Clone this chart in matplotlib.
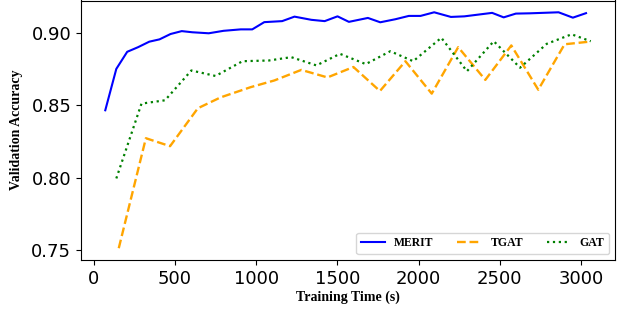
"""Validation accuracy vs training time for MERIT, TGAT and GAT."""

import matplotlib
matplotlib.use("Agg")
import matplotlib.pyplot as plt

# MERIT
merit_time = [71, 139, 206, 273, 342, 405, 473, 542, 607, 708, 799, 905, 976,
              1050, 1160, 1236, 1340, 1422, 1501, 1571, 1688, 1764, 1857, 1940,
              2012, 2096, 2199, 2282, 2453, 2524, 2599, 2686, 2862, 2950, 3031]
merit_acc = [0.8465, 0.8751, 0.8869, 0.8901, 0.8939, 0.8955, 0.8992, 0.9012,
             0.9004, 0.8997, 0.9014, 0.9024, 0.9024, 0.9074, 0.9081, 0.9112,
             0.9090, 0.9081, 0.9114, 0.9076, 0.9103, 0.9073, 0.9094, 0.9117,
             0.9117, 0.9142, 0.9110, 0.9114, 0.9138, 0.9107, 0.9133, 0.9135,
             0.9142, 0.9105, 0.9136]

# TGAT
tgat_time = [154, 321, 470, 641, 781, 967, 1112, 1278, 1439, 1599, 1762,
             1919, 2081, 2244, 2411, 2571, 2737, 2899, 3060]
tgat_acc = [0.7512, 0.8272, 0.8217, 0.8479, 0.8554, 0.8625, 0.8671, 0.8744,
            0.8692, 0.8764, 0.8598, 0.8804, 0.8580, 0.8901, 0.8675, 0.8913,
            0.8607, 0.8921, 0.8940]

# GAT
gat_time = [139, 294, 439, 601, 750, 916, 1079, 1216, 1371, 1516, 1675,
            1826, 1967, 2140, 2298, 2463, 2625, 2789, 2942, 3060]
gat_acc = [0.7994, 0.8511, 0.8534, 0.8740, 0.8702, 0.8804, 0.8809, 0.8832,
           0.8775, 0.8855, 0.8784, 0.8873, 0.8804, 0.8966, 0.8735, 0.8942,
           0.8759, 0.8924, 0.8990, 0.8942]

serif_bold = {"family": "Liberation Serif", "weight": "bold"}

fig = plt.figure(figsize=(6.22, 3.09), dpi=100)
ax = fig.add_axes([81 / 622, 49 / 309, 534 / 622, 259.5 / 309])

ax.plot(merit_time, merit_acc, color="blue", linewidth=1.5, linestyle="-", label="MERIT")
ax.plot(tgat_time, tgat_acc, color="orange", linewidth=1.7, linestyle="--", label="TGAT")
ax.plot(gat_time, gat_acc, color="green", linewidth=1.6, linestyle=":", label="GAT")

ax.set_xticks([0, 500, 1000, 1500, 2000, 2500, 3000])
ax.set_yticks([0.75, 0.80, 0.85, 0.90])
ax.tick_params(labelsize=13)

ax.set_xlabel("Training Time (s)", fontdict=dict(serif_bold, size=10), labelpad=2)
ax.set_ylabel("Validation Accuracy", fontdict=dict(serif_bold, size=10), labelpad=6)

ax.legend(loc="lower right", ncol=3, prop=dict(serif_bold, size=8.5))

fig.savefig("out.png", dpi=100)
